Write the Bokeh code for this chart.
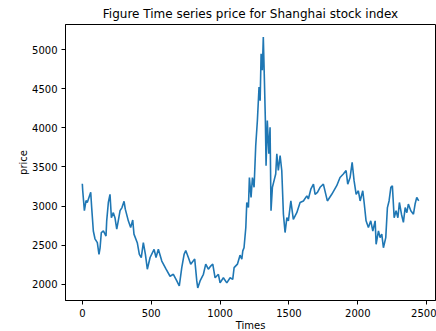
from bokeh.plotting import figure
from bokeh.models import Range1d, FixedTicker
from bokeh.embed import file_html
from bokeh.resources import INLINE

# Trading day index and closing price
days = [0, 3, 15, 27, 36, 61, 68, 80, 92, 109, 121, 129, 138, 153, 172, 177, 189, 201,
        211, 225, 237, 250, 261, 274, 288, 303, 312, 334, 351, 366, 375, 399, 414, 428,
        443, 458, 472, 492, 521, 535, 552, 577, 608, 637, 661, 686, 704, 722, 739, 751,
        770, 787, 802, 816, 831, 838, 855, 879, 896, 915, 932, 947, 964, 988, 1000, 1024,
        1049, 1073, 1092, 1102, 1126, 1145, 1158, 1165, 1174, 1187, 1194, 1206, 1213,
        1225, 1235, 1247, 1259, 1271, 1283, 1291, 1298, 1307, 1314, 1322, 1329, 1334,
        1343, 1354, 1363, 1370, 1380, 1392, 1404, 1412, 1423, 1436, 1448, 1460, 1472,
        1485, 1496, 1514, 1532, 1557, 1581, 1605, 1630, 1641, 1659, 1678, 1690, 1707,
        1726, 1750, 1779, 1811, 1847, 1871, 1895, 1915, 1927, 1944, 1959, 1973, 1988,
        2004, 2017, 2036, 2046, 2060, 2077, 2094, 2109, 2126, 2133, 2150, 2162, 2174,
        2186, 2203, 2215, 2227, 2240, 2251, 2264, 2278, 2291, 2302, 2317, 2331, 2344,
        2356, 2367, 2385, 2404, 2416, 2428, 2442]
price = [3285, 3195, 2940, 3070, 3045, 3175, 2980, 2680, 2580, 2530, 2380, 2465, 2660,
         2680, 2615, 2810, 3045, 3150, 2850, 2915, 2850, 2705, 2810, 2940, 2980, 3060,
         2960, 2810, 2725, 2820, 2640, 2530, 2380, 2340, 2530, 2380, 2190, 2340, 2445,
         2340, 2445, 2295, 2190, 2100, 2125, 2040, 1975, 2210, 2380, 2430, 2340, 2255,
         2290, 2320, 2040, 1950, 2040, 2125, 2255, 2190, 2230, 2255, 2080, 2125, 2015,
         2080, 2015, 2080, 2060, 2210, 2255, 2370, 2320, 2425, 2465, 2725, 3045, 2980,
         3365, 3110, 3365, 3240, 3775, 4095, 4525, 4350, 4950, 4740, 5165, 4610, 4095,
         3515, 4095, 3670, 4010, 2940, 3240, 3325, 3410, 3670, 3455, 3645, 3455, 2895,
         2660, 2850, 2810, 3065, 2830, 2915, 3045, 3065, 3130, 3090, 3215, 3280, 3150,
         3175, 3240, 3280, 3065, 3150, 3260, 3365, 3410, 3455, 3280, 3365, 3560, 3325,
         3150, 3195, 3065, 3195, 3045, 2810, 2725, 2810, 2680, 2810, 2510, 2680, 2595,
         2640, 2465, 2595, 2980, 3065, 3240, 3260, 2850, 2940, 2850, 3045, 2895, 2790,
         2980, 2915, 3025, 2940, 2895, 3025, 3110, 3065]

x_ticks = [0, 500, 1000, 1500, 2000, 2500]
y_ticks = [2000, 2500, 3000, 3500, 4000, 4500, 5000]

xspan = max(days) - min(days)
yspan = max(price) - min(price)

p = figure(frame_width=370, frame_height=276, output_backend="svg", toolbar_location=None,
           x_range=Range1d(min(days) - 0.05 * xspan, max(days) + 0.05 * xspan),
           y_range=Range1d(min(price) - 0.05 * yspan, max(price) + 0.05 * yspan),
           min_border_left=65, min_border_right=1, min_border_top=24, min_border_bottom=30,
           title="Figure Time series price for Shanghai stock index")

p.line(days, price, line_color="#1f77b4", line_width=1.6)

p.title.align = "center"
p.title.text_font = "DejaVu Sans"
p.title.text_font_size = "12px"
p.title.text_font_style = "normal"
p.title.text_color = "black"
p.title.standoff = 7
p.title.offset = 0

p.xgrid.visible = False
p.ygrid.visible = False
p.outline_line_color = "black"
p.outline_line_width = 1
p.outline_line_alpha = 1
p.background_fill_color = "white"
p.border_fill_color = "white"

p.xaxis.ticker = FixedTicker(ticks=x_ticks)
p.yaxis.ticker = FixedTicker(ticks=y_ticks)
p.xaxis.axis_label = "Times"
p.yaxis.axis_label = "price"

for ax in (p.xaxis[0], p.yaxis[0]):
    ax.axis_line_color = "black"
    ax.major_tick_line_color = "black"
    ax.major_tick_out = 4
    ax.major_tick_in = 0
    ax.minor_tick_line_color = None
    ax.major_label_text_font = "DejaVu Sans"
    ax.major_label_text_font_size = "10px"
    ax.major_label_text_color = "black"
    ax.major_label_standoff = 4
    ax.axis_label_text_font = "DejaVu Sans"
    ax.axis_label_text_font_size = "10px"
    ax.axis_label_text_font_style = "normal"
    ax.axis_label_text_color = "black"
    ax.axis_label_standoff = 0

open("out.html", "w").write(file_html(p, INLINE))
